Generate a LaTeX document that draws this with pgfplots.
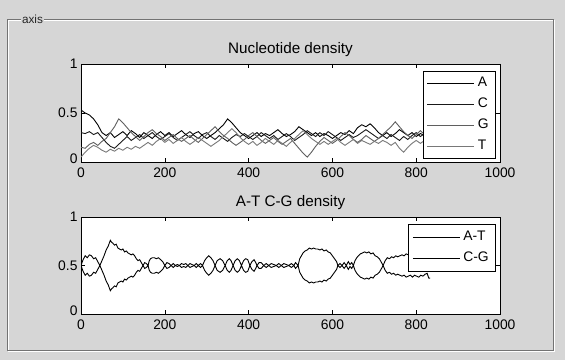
\documentclass[border=0pt]{standalone}
\usepackage{pgfplots}
\usepackage{pgfplotstable}
\pgfplotsset{compat=1.18}
\usepackage{fontspec}
\setmainfont{Liberation Sans}
\definecolor{bg}{RGB}{214,214,214}
\definecolor{cA}{RGB}{0,0,0}
\definecolor{cC}{RGB}{25,25,25}
\definecolor{cG}{RGB}{95,95,95}
\definecolor{cT}{RGB}{120,120,120}

\pgfplotstableread{
x a c g t
0 .53 .30 .15 .05
10 .50 .29 .14 .10
20 .48 .31 .18 .14
30 .44 .28 .20 .17
40 .38 .30 .17 .15
50 .30 .25 .21 .12
60 .27 .20 .24 .10
70 .30 .16 .30 .13
80 .25 .14 .36 .11
90 .28 .18 .44 .14
100 .31 .22 .40 .12
110 .27 .26 .35 .15
120 .32 .22 .30 .13
130 .29 .25 .26 .16
140 .25 .28 .22 .14
150 .30 .24 .26 .17
160 .27 .27 .30 .20
170 .24 .30 .33 .17
180 .28 .26 .29 .21
190 .31 .23 .26 .24
200 .27 .26 .22 .20
210 .30 .29 .25 .23
220 .26 .25 .28 .19
230 .29 .22 .24 .22
240 .32 .25 .21 .25
250 .28 .28 .24 .21
260 .25 .31 .27 .18
270 .29 .27 .23 .21
280 .31 .24 .20 .25
290 .27 .28 .24 .22
300 .24 .30 .28 .19
310 .27 .26 .32 .16
320 .30 .23 .36 .19
330 .34 .27 .31 .22
340 .38 .24 .27 .26
350 .44 .21 .24 .30
360 .40 .25 .20 .34
370 .35 .28 .17 .30
380 .30 .26 .20 .25
390 .27 .29 .23 .21
400 .24 .26 .27 .18
410 .27 .23 .30 .21
420 .30 .26 .26 .17
430 .26 .30 .22 .20
440 .29 .27 .19 .24
450 .27 .24 .22 .21
460 .30 .27 .25 .18
470 .33 .23 .21 .22
480 .29 .26 .18 .19
490 .26 .29 .21 .16
500 .28 .26 .24 .20
510 .31 .22 .19 .24
520 .36 .25 .14 .28
530 .33 .28 .09 .32
540 .30 .32 .05 .28
550 .27 .29 .10 .24
560 .30 .26 .16 .21
570 .26 .30 .21 .18
580 .29 .27 .25 .21
590 .27 .31 .22 .18
600 .24 .28 .19 .21
610 .27 .25 .22 .24
620 .30 .22 .26 .20
630 .28 .25 .30 .17
640 .32 .28 .27 .20
650 .29 .25 .23 .23
660 .35 .27 .20 .19
670 .38 .30 .23 .22
680 .36 .33 .27 .20
690 .39 .30 .24 .18
700 .35 .27 .21 .21
710 .30 .24 .24 .19
720 .27 .27 .28 .22
730 .30 .24 .32 .20
740 .26 .28 .36 .17
750 .29 .25 .41 .20
760 .33 .22 .36 .14
770 .30 .26 .31 .10
780 .27 .23 .27 .15
790 .30 .27 .24 .19
800 .26 .30 .28 .22
810 .29 .26 .32 .19
820 .27 .29 .28 .22
830 .30 .26 .25 .20
}\nuc

\pgfplotstableread{
x at cg
0 .50 .50
5 .56 .44
10 .60 .40
15 .58 .42
20 .61 .39
25 .60 .40
30 .57 .43
35 .58 .42
40 .54 .46
45 .50 .50
50 .55 .45
55 .60 .40
60 .66 .34
65 .70 .30
70 .76 .24
73 .74 .26
76 .73 .27
80 .71 .29
84 .72 .28
88 .68 .32
92 .67 .33
96 .66 .34
100 .67 .33
104 .64 .36
108 .65 .35
112 .63 .37
116 .62 .38
120 .61 .39
124 .62 .38
128 .60 .40
132 .57 .43
136 .55 .45
140 .56 .44
144 .53 .47
148 .50 .50
152 .53 .47
156 .52 .48
160 .50 .50
163 .55 .45
166 .57 .43
170 .58 .42
175 .58 .42
180 .57 .43
185 .58 .42
190 .56 .44
195 .54 .46
200 .50 .50
205 .53 .47
210 .52 .48
215 .50 .50
220 .52 .48
225 .50 .50
230 .51 .49
235 .50 .50
240 .52 .48
245 .51 .49
250 .52 .48
255 .50 .50
260 .52 .48
265 .51 .49
270 .50 .50
275 .52 .48
280 .50 .50
285 .52 .48
290 .50 .50
295 .55 .45
300 .58 .42
305 .60 .40
310 .58 .42
315 .55 .45
320 .50 .50
325 .55 .45
332 .57 .43
338 .55 .45
344 .50 .50
349 .55 .45
354 .57 .43
358 .55 .45
363 .50 .50
368 .55 .45
373 .57 .43
378 .55 .45
383 .50 .50
388 .55 .45
393 .57 .43
398 .56 .44
403 .50 .50
408 .54 .46
413 .56 .44
417 .53 .47
420 .50 .50
425 .53 .47
430 .53 .47
436 .50 .50
442 .52 .48
448 .50 .50
454 .52 .48
460 .51 .49
466 .50 .50
472 .52 .48
478 .50 .50
484 .52 .48
490 .51 .49
496 .50 .50
502 .52 .48
508 .50 .50
512 .53 .47
518 .50 .50
522 .57 .43
526 .60 .40
530 .63 .37
535 .65 .35
540 .66 .34
545 .68 .32
550 .67 .33
555 .68 .32
560 .67 .33
565 .67 .33
570 .66 .34
575 .67 .33
580 .65 .35
585 .66 .34
590 .64 .36
595 .63 .37
600 .60 .40
605 .57 .43
610 .54 .46
613 .50 .50
618 .52 .48
623 .50 .50
628 .53 .47
633 .50 .50
638 .54 .46
642 .51 .49
646 .53 .47
650 .50 .50
654 .55 .45
658 .58 .42
662 .60 .40
667 .62 .38
672 .63 .37
677 .64 .36
682 .63 .37
687 .64 .36
692 .62 .38
697 .63 .37
702 .60 .40
707 .59 .41
712 .57 .43
716 .54 .46
721 .50 .50
726 .55 .45
731 .58 .42
736 .57 .43
741 .59 .41
746 .58 .42
751 .60 .40
756 .59 .41
761 .60 .40
766 .61 .39
771 .60 .40
776 .62 .38
781 .61 .39
786 .60 .40
791 .62 .38
796 .60 .40
801 .61 .39
806 .62 .38
811 .60 .40
816 .61 .39
821 .59 .41
826 .58 .42
830 .63 .37
833 .63 .37
}\atcg

\pgfplotsset{
  mlax/.style={
    scale only axis, width=419bp,
    xmin=0, xmax=1000, ymin=0, ymax=1,
    xtick={0,200,400,600,800,1000},
    xticklabels={0,200,400,600,800,1000},
    ytick={0,0.5,1},
    yticklabels={\raisebox{6bp}{0},0.5,1},
    tick align=inside, major tick length=4bp,
    axis line style={line width=0.8bp, black},
    every tick/.style={black, line width=0.6bp},
    tick label style={font=\fontsize{13.9}{16}\selectfont},
    /pgf/number format/assume math mode=true,
    xticklabel style={yshift=-2bp},
    title style={font=\fontsize{15.3}{18}\selectfont, anchor=base, yshift=5bp},
    axis background/.style={fill=white},
    legend cell align=left,
    legend image code/.code={\draw[##1] (0bp,0bp) -- (47bp,0bp);},
  }
}

\begin{document}
\begin{tikzpicture}[x=1bp,y=1bp]
\fill[bg] (0,0) rectangle (565,360);
\useasboundingbox (0,0) rectangle (565,360);
% etched group box
\draw[white, line width=1bp] (8,339) rectangle (554,9);
\draw[black!55, line width=1bp] (7,340) rectangle (553,10);
\node[fill=bg, inner xsep=1.5bp, inner ysep=0bp, font=\fontsize{11.8}{13}\selectfont, text=black!85] at (32.5,340.5) {axis};

\begin{axis}[mlax, height=98bp, at={(81bp,198bp)}, anchor=south west,
  title={Nucleotide density},
  legend style={at={(axis description cs:0.9905,0.929)}, anchor=north east,
    draw=black, fill=white, line width=0.7bp,
    font=\fontsize{13.9}{16}\selectfont,
    inner xsep=4bp, inner ysep=3.5bp, row sep=4bp,
    nodes={inner xsep=3bp, inner ysep=2bp, text height=10bp, text depth=3bp}},
]
\addplot[cA, line width=0.9bp] table[x=x,y=a] {\nuc};
\addplot[cC, line width=0.9bp] table[x=x,y=c] {\nuc};
\addplot[cG, line width=0.9bp] table[x=x,y=g] {\nuc};
\addplot[cT, line width=0.9bp] table[x=x,y=t] {\nuc};
\legend{A,C,G,T}
\end{axis}

\begin{axis}[mlax, height=97bp, at={(81bp,46bp)}, anchor=south west,
  title={A-T C-G density},
  legend style={at={(axis description cs:0.9905,0.928)}, anchor=north east,
    draw=black, fill=white, line width=0.7bp,
    font=\fontsize{13.9}{16}\selectfont,
    inner xsep=4bp, inner ysep=4.5bp, row sep=4bp,
    nodes={inner xsep=3bp, inner ysep=2bp, text height=10bp, text depth=3bp}},
]
\addplot[black, line width=0.9bp] table[x=x,y=at] {\atcg};
\addplot[black, line width=0.9bp] table[x=x,y=cg] {\atcg};
\legend{A-T,C-G}
\end{axis}
\end{tikzpicture}
\end{document}
